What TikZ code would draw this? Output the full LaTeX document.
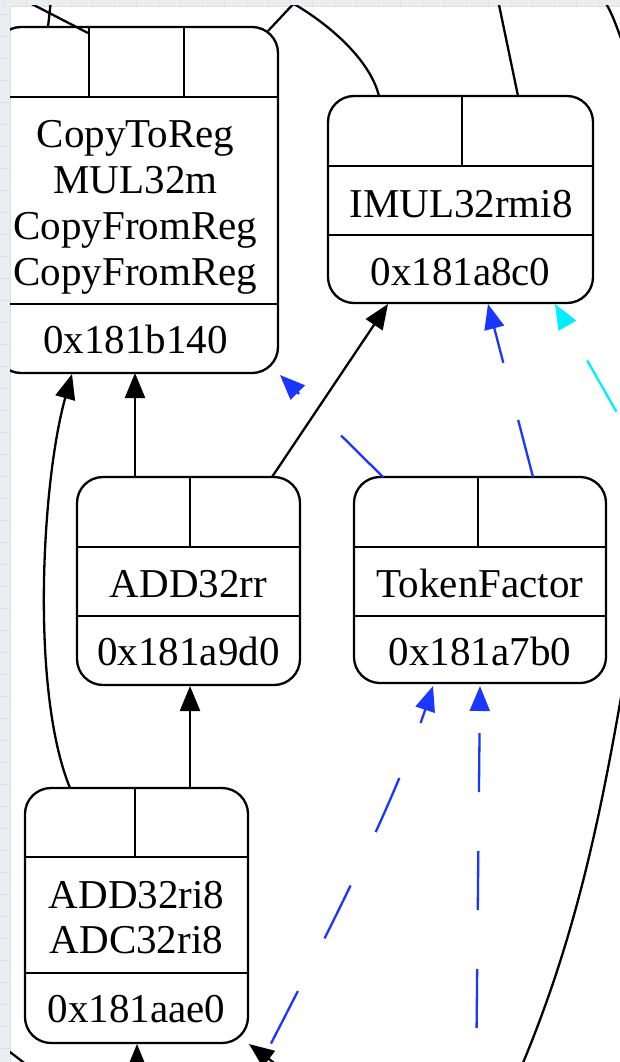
\documentclass[tikz,border=0pt]{standalone}
\usepackage{fontspec}
\setmainfont{Liberation Serif}
\usetikzlibrary{arrows.meta}
\definecolor{depblue}{RGB}{25,55,255}
\definecolor{depcyan}{RGB}{0,238,255}
\definecolor{panel}{RGB}{234,238,241}
\definecolor{panelgrid}{RGB}{214,229,236}
\begin{document}
\begin{tikzpicture}[x=1pt,y=-1pt,
  rec/.style={draw, line width=2.3pt, rounded corners=26pt, inner sep=0pt, outer sep=0pt},
  cell/.style={line width=2.3pt},
  txt/.style={font=\fontsize{41}{46}\selectfont, inner sep=0pt, anchor=base},
  link/.style={line width=2.3pt},
  edge/.style={link, -{Triangle[length=25pt,width=20pt]}},
  dep/.style={edge, draw=depblue, dash pattern=on 59pt off 59pt, dash phase=59pt},
  glue/.style={edge, draw=depcyan, dash pattern=on 59pt off 59pt, dash phase=59pt}]
\useasboundingbox (0,0) rectangle (620,1062);

% window background with its grid, and the white canvas
\fill[panel] (0,0) rectangle (620,1062);
\foreach \gx in {4,26,...,620} \draw[panelgrid, line width=0.8pt] (\gx,0) -- (\gx,6);
\foreach \gy in {14,36,...,1062} \draw[panelgrid, line width=0.8pt] (0,\gy) -- (10,\gy);
\fill[white] (10,6) rectangle (620,1062);
\draw[gray!25, line width=0.8pt] (10,1062) -- (10,6) -- (620,6);

\begin{scope}
\clip (10,6) rectangle (620,1062);

% ---- records ----
% CopyToReg / MUL32m / CopyFromReg / CopyFromReg
\node[rec, minimum width=283pt, minimum height=346pt] (A) at (136.5,200) {};
\draw[cell] (-5,97) -- (278,97);
\draw[cell] (89,27) -- (89,97);
\draw[cell] (184,27) -- (184,97);
\draw[cell] (-5,304) -- (278,304);
\node[txt] (A-l1) at (135.5,147) {CopyToReg};
\node[txt] (A-l2) at (135.5,193) {MUL32m};
\node[txt] (A-l3) at (135.5,239) {CopyFromReg};
\node[txt] (A-l4) at (135.5,285) {CopyFromReg};
\node[txt] (A-addr) at (135.5,353) {0x181b140};

% IMUL32rmi8
\node[rec, minimum width=265pt, minimum height=207pt] (B) at (460.5,199.5) {};
\draw[cell] (328,166) -- (593,166);
\draw[cell] (462,96) -- (462,166);
\draw[cell] (328,235) -- (593,235);
\node[txt] (B-l1) at (461,217) {IMUL32rmi8};
\node[txt] (B-addr) at (460.5,285) {0x181a8c0};

% ADD32rr
\node[rec, minimum width=223pt, minimum height=208pt] (C) at (188.5,581) {};
\draw[cell] (77,547) -- (300,547);
\draw[cell] (190,477) -- (190,547);
\draw[cell] (77,616) -- (300,616);
\node[txt] (C-l1) at (188.5,597) {ADD32rr};
\node[txt] (C-addr) at (188.5,665) {0x181a9d0};

% TokenFactor
\node[rec, minimum width=252pt, minimum height=206pt] (D) at (480,580) {};
\draw[cell] (354,547) -- (606,547);
\draw[cell] (478,477) -- (478,547);
\draw[cell] (354,616) -- (606,616);
\node[txt] (D-l1) at (480,597) {TokenFactor};
\node[txt] (D-addr) at (480,665) {0x181a7b0};

% ADD32ri8 / ADC32ri8
\node[rec, minimum width=223pt, minimum height=255pt] (E) at (136.5,915.5) {};
\draw[cell] (25,857) -- (248,857);
\draw[cell] (135,788) -- (135,857);
\draw[cell] (25,973) -- (248,973);
\node[txt] (E-l1) at (136.5,908) {ADD32ri8};
\node[txt] (E-l2) at (136.5,953) {ADC32ri8};
\node[txt] (E-addr) at (136.5,1022) {0x181aae0};

% ---- free ends of edges leaving the canvas ----
\coordinate (up1) at (26,1);
\coordinate (A-in) at (88,33);
\coordinate (up2) at (51,0);
\coordinate (A-ne) at (268,31);
\coordinate (up3) at (297,0);
\coordinate (up4) at (294,4);
\coordinate (up5) at (498,0);
\coordinate (up6) at (604,0);
\coordinate (right1) at (626,52);
\coordinate (right2) at (624,680);
\coordinate (down1) at (520,1070);
\coordinate (cyan-src) at (645.6,463);
\coordinate (blue-src1) at (244,1096);
\coordinate (blue-src2) at (476,1087);
\coordinate (low1) at (137,1120);
\coordinate (low2) at (330,1105);
\coordinate (low3a) at (-3,1042);
\coordinate (low3b) at (36,1072);

% ---- edges above ----
\draw[link] (up1) -- (A-in);
\draw[link] (up2) -- (A.north -| 48,0);
\draw[link] (A-ne) -- (up3);
\draw[link] (up4) .. controls (330,25) and (370,60) .. (B.north -| 379,0);
\draw[link] (up5) -- (B.north -| 518,0);
\draw[link] (up6) .. controls (612,14) .. (right1);

% ---- data edges ----
\draw[edge] (C.north -| 135,0) -- (A.south -| 135,0);
\draw[edge] (E.north -| 70,0) .. controls (30,690) and (42,480) .. ([yshift=-1pt]A.south -| 72,0);
\draw[edge] (E.north -| 190,0) -- ([yshift=-1pt]C.south -| 190,0);
\draw[edge] (C.north -| 272,0) -- ([yshift=-1pt]B.south -| 388,0);

% ---- chain edges ----
\draw[dep, dash phase=0pt] (D.north -| 533,0) -- ([yshift=-1pt]B.south -| 488,0);
\draw[dep, dash phase=0pt] (D.north -| 383,0) -- ([shift={(2pt,-2pt)}]A.south east);
\draw[glue] (cyan-src) -- ([yshift=-1pt]B.south -| 555,0);
\draw[dep] (blue-src1) .. controls (308,971) and (389,819) .. ([yshift=-3pt]D.south -| 433,0);
\draw[dep] (blue-src2) -- ([yshift=-3pt]D.south -| 480,0);

% ---- edges below ----
\draw[link] (right2) .. controls (600,820) and (575,940) .. (down1);
\draw[edge] (low1) -- ([yshift=-1pt]E.south -| 137,0);
\draw[edge] (low2) -- ([shift={(1pt,-1pt)}]E.south east);
\draw[link] (low3a) -- (low3b);
\end{scope}
\end{tikzpicture}
\end{document}
